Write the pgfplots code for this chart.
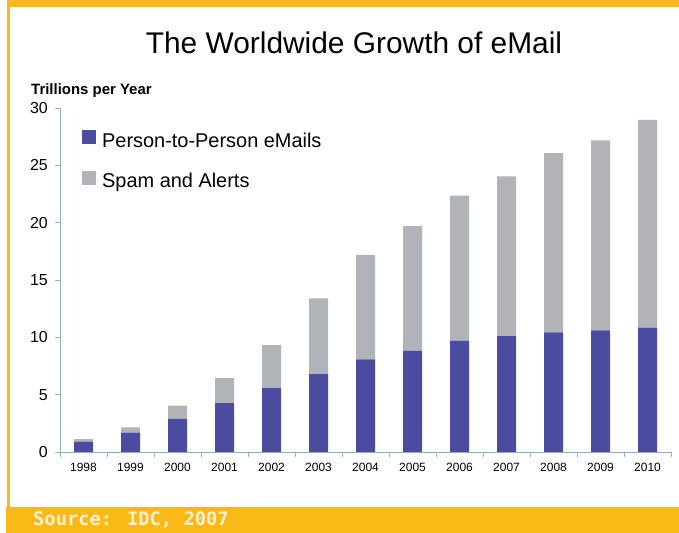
\documentclass[border=0pt]{standalone}
\usepackage{pgfplots}
\pgfplotsset{compat=1.18}
\usepackage{fontspec}
\setmainfont{Liberation Sans}
\newfontfamily\srcfont{DejaVu Sans Mono}
\definecolor{frameor}{HTML}{FBB917}
\definecolor{pblue}{HTML}{4B4BA0}
\definecolor{sgray}{HTML}{B0B3B8}
\definecolor{axcol}{HTML}{8AB0C8}
\definecolor{srccol}{HTML}{FAF0D2}
\pgfplotstableread{
x p s
0 0.90 0.23
1 1.68 0.47
2 2.88 1.16
3 4.27 2.18
4 5.58 3.75
5 6.80 6.60
6 8.08 9.10
7 8.83 10.87
8 9.70 12.65
9 10.11 13.93
10 10.44 15.63
11 10.61 16.56
12 10.84 18.13
}\datatable
\begin{document}
\begin{tikzpicture}[x=1bp,y=1bp]
\fill[white] (0,0) rectangle (679,533);
\fill[frameor] (7,526) rectangle (679,533);
\fill[frameor] (7,26) rectangle (10,533);
\fill[frameor] (6,0) rectangle (679,26);
\node[anchor=west,inner sep=0pt,text=srccol] at (33,13) {\srcfont\bfseries\fontsize{18.8}{20}\selectfont Source: IDC, 2007};
\node[anchor=base,inner sep=0pt] at (354,479) {\fontsize{30}{34}\selectfont The Worldwide Growth of eMail};
\node[anchor=base west,inner sep=0pt] at (31,438) {\bfseries\fontsize{15}{18}\selectfont Trillions per Year};
\begin{axis}[
  at={(60bp,81bp)}, anchor=south west,
  scale only axis, width=611bp, height=344bp,
  xmin=-0.5, xmax=12.5, ymin=0, ymax=30,
  ybar stacked, bar width=19bp,
  axis x line*=bottom, axis y line*=left,
  axis line style={axcol, line width=0.8pt, -},
  tick style={axcol, line width=0.8pt},
  tick align=outside, major tick length=5bp,
  ytick={0,5,...,30},
  xtick={-0.5,0.5,...,12.5},
  x tick label as interval,
  xticklabels={1998,1999,2000,2001,2002,2003,2004,2005,2006,2007,2008,2009,2010},
  xticklabel style={font=\fontsize{12}{14}\selectfont, inner sep=0pt, yshift=-6bp},
  yticklabel style={font=\fontsize{16}{18}\selectfont, inner sep=0pt, anchor=east, xshift=-7bp},
  /pgf/number format/assume math mode=true,
  clip=false,
  legend style={at={(0.036,0.936)}, anchor=north west, draw=none, fill=none,
    font=\fontsize{20}{24}\selectfont, inner sep=0pt, row sep=19bp, column sep=6bp,
    nodes={inner sep=0pt, text height=14.5bp, text depth=4.5bp}},
  legend cell align=left,
  legend image code/.code={\fill[#1] (0bp,-2bp) rectangle (14bp,12bp);},
]
\addplot[fill=pblue, draw=none] table[x=x,y=p]{\datatable};
\addplot[fill=sgray, draw=none] table[x=x,y=s]{\datatable};
\legend{Person-to-Person eMails, Spam and Alerts}
\end{axis}
\end{tikzpicture}
\end{document}
